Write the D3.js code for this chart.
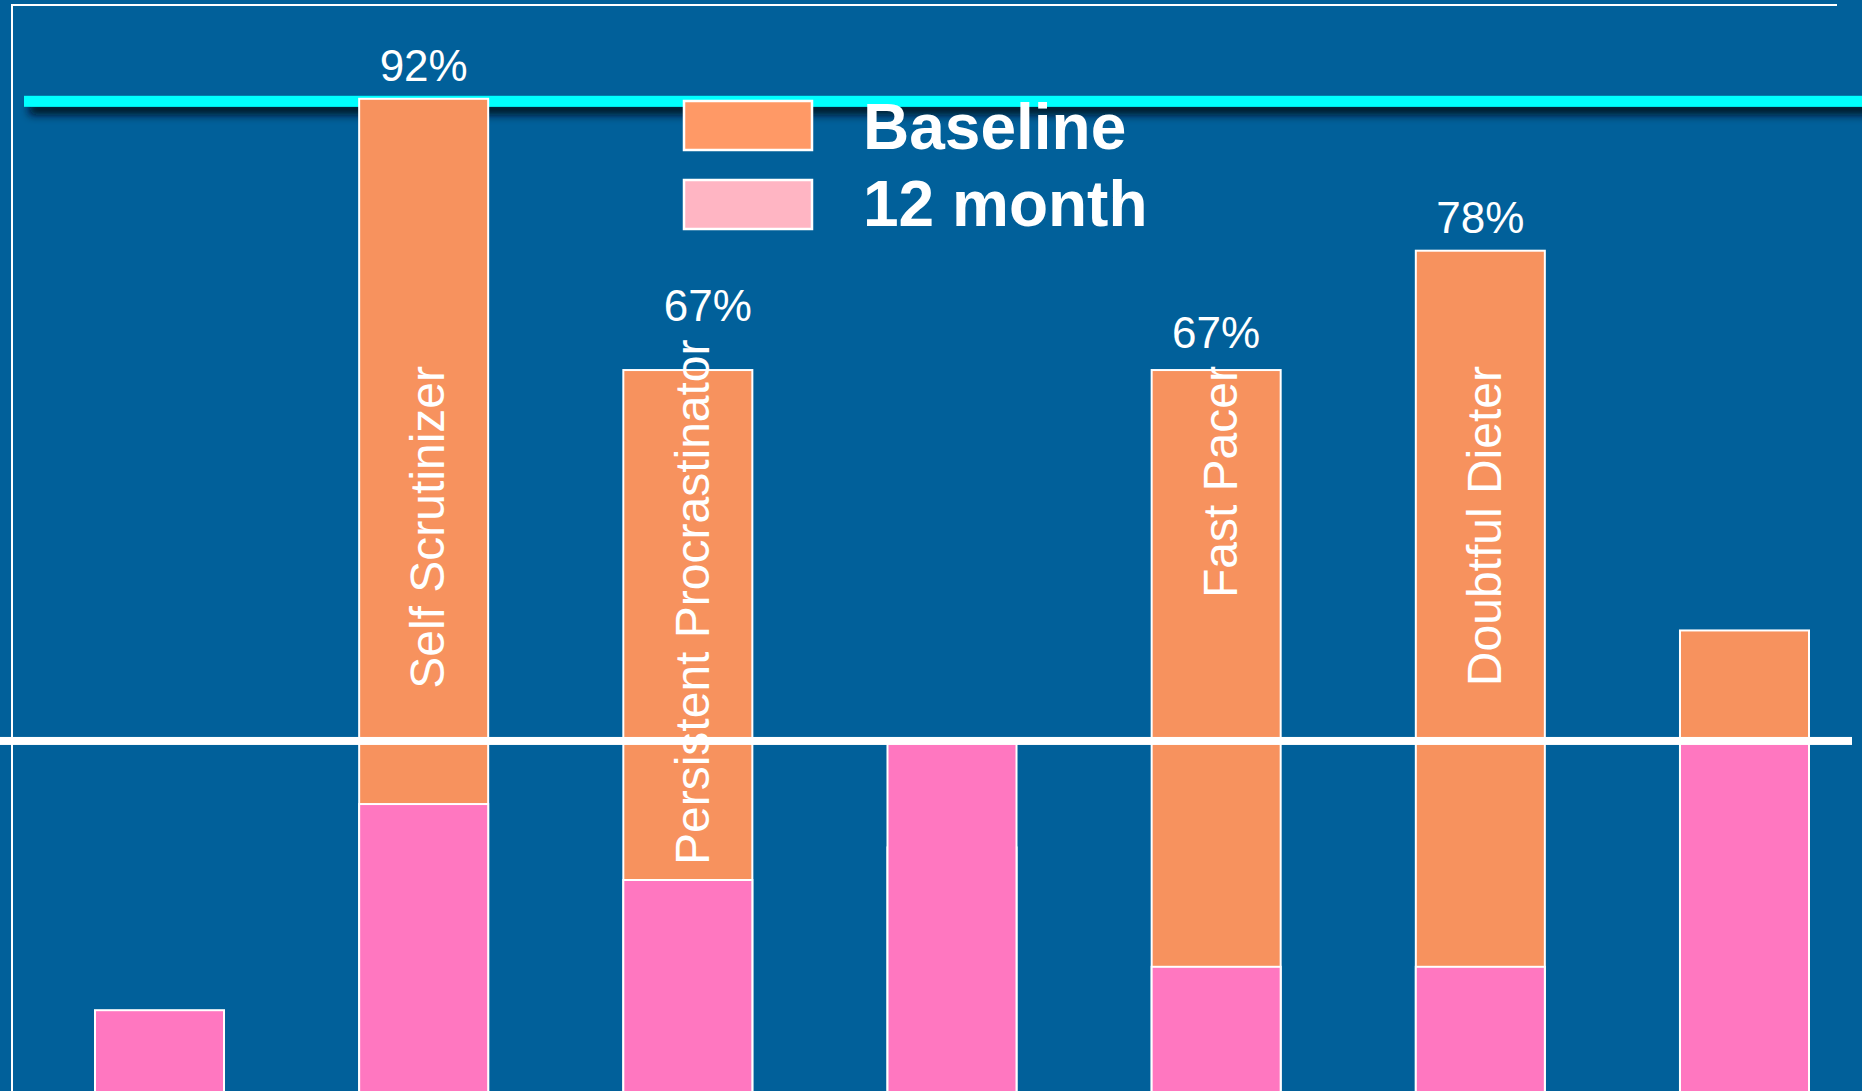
<!DOCTYPE html>
<html>
<head>
<meta charset="utf-8">
<script src="https://cdn.jsdelivr.net/npm/d3@7"></script>
<style>
  body { margin: 0; background: #01609a; overflow: hidden; }
  svg { display: block; }
  text { font-family: "Liberation Sans", Arial, sans-serif; fill: #fff; }
</style>
</head>
<body>
<svg width="1862" height="1091"></svg>
<script>
let width = 1862,
    height = 1091;

// one entry per group, left to right (blank = no name on the slide)
let categories = ["", "Self Scrutinizer", "Persistent Procrastinator", "", "Fast Pacer", "Doubtful Dieter", ""];
let baseline = [0, 92, 67, 23, 67, 78, 43];
let month12 = [8, 27, 20, 33, 12, 12, 33];
let seriesNames = ["Baseline", "12 month"];
let refLines = [92, 33];

let colors = {
    bg: "#01609a",
    baseline: "#f7925e",
    month12: "#ff77c0",
    legendBaseline: "#ff9966",
    legendMonth12: "#ffb5c3",
    cyan: "#00ffff"
};

let labelTop = 366,
    valueGap = 18;

let svg = d3.select("svg");

let x = d3.scaleBand()
    .domain(d3.range(categories.length))
    .range([95, 1809])
    .paddingInner(0.5116)
    .paddingOuter(0);

let y = d3.scaleLinear()
    .domain([0, 100])
    .range([1097, 12]);

let defs = svg.append("defs");
let shadow = defs.append("filter")
    .attr("id", "shadow")
    .attr("x", "-5%").attr("y", "-100%")
    .attr("width", "110%").attr("height", "400%");
shadow.append("feDropShadow")
    .attr("dx", 5).attr("dy", 8)
    .attr("stdDeviation", 4)
    .attr("flood-color", "#00111f")
    .attr("flood-opacity", 0.95);

svg.append("rect")
    .attr("width", width)
    .attr("height", height)
    .attr("fill", colors.bg);

// slide frame
svg.append("path")
    .attr("d", "M12," + (height + 5) + "V5H1837")
    .attr("fill", "none")
    .attr("stroke", "#fff")
    .attr("stroke-width", 2);

// cyan reference line with its shadow
svg.append("rect")
    .attr("x", 24)
    .attr("y", y(refLines[0]) - 3)
    .attr("width", width)
    .attr("height", 11)
    .attr("fill", colors.cyan)
    .attr("filter", "url(#shadow)");

let bars = svg.append("g");

bars.selectAll("rect.base")
    .data(baseline)
    .join("rect")
    .attr("class", "base")
    .attr("x", (d, i) => x(i))
    .attr("y", d => y(d))
    .attr("width", x.bandwidth())
    .attr("height", d => y(0) - y(d))
    .attr("fill", colors.baseline)
    .attr("stroke", "#fff")
    .attr("stroke-width", 2)
    .style("display", d => d > 0 ? null : "none");

bars.selectAll("rect.m12")
    .data(month12)
    .join("rect")
    .attr("class", "m12")
    .attr("x", (d, i) => x(i))
    .attr("y", d => y(d))
    .attr("width", x.bandwidth())
    .attr("height", d => y(0) - y(d))
    .attr("fill", colors.month12)
    .attr("stroke", "#fff")
    .attr("stroke-width", 2);

// white reference line
svg.append("rect")
    .attr("x", 0)
    .attr("y", y(refLines[1]) - 2)
    .attr("width", 1852)
    .attr("height", 8)
    .attr("fill", "#fff");

let named = categories
    .map((c, i) => ({name: c, i: i, v: baseline[i], m: month12[i]}))
    .filter(d => d.name);

// category names, rotated inside the bars
let names = svg.append("g")
    .selectAll("text")
    .data(named)
    .join("text")
    .attr("text-anchor", "end")
    .attr("dy", "0.35em")
    .style("font-size", "48px")
    .text(d => d.name);

// long names are pushed up so they stop just above the pink bar
names.each(function(d) {
    let len = this.getComputedTextLength();
    let bottom = Math.min(labelTop + len, y(d.m) - 15);
    d.top = bottom - len;
});

names.attr("transform", d => `translate(${x(d.i) + x.bandwidth() / 2 + 4},${d.top}) rotate(-90)`);

// percentage labels above the bars
svg.append("g")
    .selectAll("text")
    .data(named)
    .join("text")
    .attr("x", d => x(d.i) + x.bandwidth() / 2 + (d.top < y(d.v) - 20 ? 20 : 0))
    .attr("y", d => Math.min(y(d.v), d.top) - valueGap)
    .attr("text-anchor", "middle")
    .style("font-size", "44px")
    .text(d => d.v + "%");

// legend
let legend = svg.append("g")
    .selectAll("g")
    .data(seriesNames)
    .join("g")
    .attr("transform", (d, i) => `translate(684,${101 + i * 79})`);

legend.append("rect")
    .attr("width", 128)
    .attr("height", 49)
    .attr("fill", (d, i) => i === 0 ? colors.legendBaseline : colors.legendMonth12)
    .attr("stroke", "#fff")
    .attr("stroke-width", 2.5);

legend.append("text")
    .attr("x", 179)
    .attr("y", (d, i) => i === 0 ? 48 : 46)
    .style("font-size", "64px")
    .style("font-weight", "bold")
    .text(d => d);
</script>
</body>
</html>
